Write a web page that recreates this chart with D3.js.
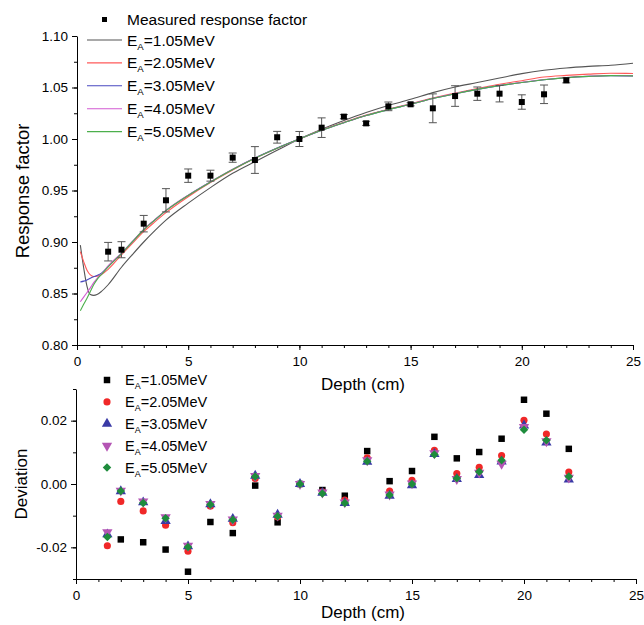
<!DOCTYPE html>
<html><head><meta charset="utf-8">
<script src="https://cdn.jsdelivr.net/npm/d3@7"></script>
<style>
body{margin:0;background:#fff}
svg{display:block}
text{font-family:"Liberation Sans",Arial,Helvetica,sans-serif;fill:#000}
</style>
</head><body>
<svg id="c" width="644" height="625"></svg>
<script>
// ---------- DATA ----------
const measuredDepth = [1.4,2,3,4,5,6,7,8,9,10,11,12,13,14,15,16,17,18,19,20,21,22];
const measuredValue = [0.8906,0.8925,0.9178,0.9405,0.9644,0.9644,0.9819,0.9796,1.0017,1.0000,1.0110,1.0217,1.0152,1.0317,1.0337,1.0298,1.0417,1.0440,1.0440,1.0359,1.0434,1.0570];
const measuredError = [0.009,0.0078,0.008,0.0113,0.0065,0.0053,0.0045,0.013,0.0057,0.0073,0.0095,0.002,0.002,0.0042,0.0015,0.014,0.010,0.0065,0.008,0.007,0.009,0.0025];

const curveDepth = [0.15,0.3,0.45,0.6,0.75,0.9,1.1,1.4,2,2.5,3,3.5,4,5,6,7,8,9,10,11,12,13,14,15,16,17,18,19,20,21,22,23,24,25];
const curve105 = [0.897,0.875,0.857,0.849,0.8482,0.849,0.852,0.8585,0.8755,0.888,0.900,0.911,0.9212,0.9377,0.9528,0.9667,0.978,0.989,1.000,1.0095,1.018,1.0258,1.0326,1.0385,1.045,1.0505,1.0548,1.0592,1.0635,1.0668,1.069,1.0705,1.0716,1.0735];
const curve205 = [0.8906,0.881,0.8725,0.868,0.8665,0.8668,0.8685,0.8735,0.8876,0.899,0.910,0.9195,0.9285,0.944,0.9577,0.970,0.9812,0.991,1.000,1.0087,1.0162,1.0232,1.029,1.0343,1.0398,1.0447,1.049,1.0532,1.0566,1.0602,1.0618,1.063,1.0638,1.0636];
const curve305 = [0.8612,0.862,0.8632,0.8648,0.8662,0.8675,0.8698,0.8762,0.889,0.9005,0.912,0.9215,0.9305,0.9453,0.9583,0.9705,0.9815,0.9912,1.000,1.0084,1.0158,1.0228,1.0285,1.0337,1.0393,1.044,1.0482,1.0518,1.0548,1.0575,1.0595,1.0608,1.0614,1.0612];
const curve405 = [0.842,0.8465,0.851,0.8555,0.8605,0.8645,0.8688,0.8768,0.8892,0.9007,0.9122,0.9217,0.9307,0.9455,0.9584,0.9706,0.9815,0.9911,1.000,1.0085,1.0159,1.0229,1.0286,1.0338,1.0394,1.0441,1.0483,1.0519,1.0550,1.0577,1.0597,1.0609,1.0616,1.0614];
const curve505 = [0.8333,0.8395,0.8455,0.852,0.8585,0.8635,0.8685,0.8758,0.8888,0.9004,0.9119,0.9214,0.9304,0.9452,0.9582,0.9704,0.9814,0.9911,1.000,1.0084,1.0158,1.0228,1.0285,1.0337,1.0393,1.044,1.0482,1.0518,1.0549,1.0576,1.0596,1.0608,1.0615,1.0613];

const devDepth = [1.4,2,3,4,5,6,7,8,9,10,11,12,13,14,15,16,17,18,19,20,21,22];
const dev105 = [-0.037,-0.0175,-0.0184,-0.0207,-0.0277,-0.0120,-0.0155,-0.0005,-0.0121,0,-0.0019,-0.0037,0.0104,0.0009,0.0041,0.0149,0.0081,0.0101,0.0143,0.0266,0.0222,0.0111];
const dev205 = [-0.0195,-0.0055,-0.0085,-0.0130,-0.0212,-0.0070,-0.0122,0.0017,-0.0104,0,-0.0025,-0.0051,0.0083,-0.0022,0.0012,0.0106,0.0033,0.0053,0.0090,0.0201,0.0158,0.0038];
const dev305 = [-0.0159,-0.0023,-0.0058,-0.0117,-0.0197,-0.0064,-0.0110,0.0026,-0.0097,0,-0.0028,-0.0060,0.0070,-0.0037,-0.0004,0.0095,0.0016,0.0028,0.0071,0.0185,0.0131,0.0014];
const dev405 = [-0.0152,-0.0021,-0.0055,-0.0105,-0.0195,-0.0063,-0.0112,0.0025,-0.0100,0,-0.0027,-0.0058,0.0075,-0.0033,0.0002,0.0097,0.0016,0.0036,0.0064,0.0180,0.0135,0.0020];
const dev505 = [-0.0167,-0.0022,-0.0060,-0.0108,-0.0199,-0.0065,-0.0113,0.0024,-0.0102,0,-0.0030,-0.0060,0.0072,-0.0035,0.0000,0.0093,0.0018,0.0039,0.0075,0.0171,0.0138,0.0024];

const seriesNames = ["1.05MeV","2.05MeV","3.05MeV","4.05MeV","5.05MeV"];
const lineColors = ["#555555","#ff5a5a","#4848c0","#d25ad2","#4caf4c"];
const markerColors = ["#000000","#f02828","#3a3aa6","#b455b4","#1e8c3c"];
const xTicks = [0,5,10,15,20,25];
const yTopTicks = [0.80,0.85,0.90,0.95,1.00,1.05,1.10];
const yBotTicks = [-0.02,0.00,0.02];

// ---------- CHART ----------
const svg = d3.select("#c");
const curves = [curve105,curve205,curve305,curve405,curve505];
const devs = [dev105,dev205,dev305,dev405,dev505];

const xTop = d3.scaleLinear().domain([0,25]).range([77,633]);
const yTop = d3.scaleLinear().domain([0.80,1.10]).range([345,36]);
const xBot = d3.scaleLinear().domain([0,25]).range([76,636]);
const yBot = d3.scaleLinear().domain([-0.03,0.03]).range([579,389]);

function styleAxis(g){
  g.selectAll("path,line").attr("stroke","#000").attr("stroke-width",1);
  g.selectAll("text").style("font-size","13.5px").attr("fill","#000");
}
function minorAxis(axisFn, scale, vals, pos, isX){
  const g = svg.append("g").attr("transform", isX?`translate(0,${pos})`:`translate(${pos},0)`)
    .call(axisFn(scale).tickValues(vals).tickSize(3).tickFormat("").tickSizeOuter(0));
  g.select(".domain").remove();
  styleAxis(g);
}
const fmtY = d => (d<0?"-":"") + Math.abs(d).toFixed(2);

// top panel axes
minorAxis(d3.axisBottom, xTop, d3.range(0,26,1), 345, true);
minorAxis(d3.axisLeft, yTop, d3.range(0,13).map(i=>0.8+i*0.025), 77, false);
svg.append("g").attr("transform","translate(0,345)")
  .call(d3.axisBottom(xTop).tickValues(xTicks).tickSize(5).tickPadding(6).tickSizeOuter(0).tickFormat(d3.format("d")))
  .call(styleAxis);
svg.append("g").attr("transform","translate(77,0)")
  .call(d3.axisLeft(yTop).tickValues(yTopTicks).tickSize(5).tickPadding(4).tickSizeOuter(0).tickFormat(d=>d.toFixed(2)))
  .call(styleAxis);

// bottom panel axes
minorAxis(d3.axisBottom, xBot, d3.range(0,26,1), 579, true);
minorAxis(d3.axisLeft, yBot, d3.range(-3,4).map(i=>i*0.01), 76, false);
svg.append("g").attr("transform","translate(0,579)")
  .call(d3.axisBottom(xBot).tickValues(xTicks).tickSize(5).tickPadding(6).tickSizeOuter(0).tickFormat(d3.format("d")))
  .call(styleAxis);
svg.append("g").attr("transform","translate(76,0)")
  .call(d3.axisLeft(yBot).tickValues(yBotTicks).tickSize(5).tickPadding(4).tickSizeOuter(0).tickFormat(fmtY))
  .call(styleAxis);

// axis titles
svg.append("text").attr("x",363).attr("y",390).attr("text-anchor","middle").style("font-size","17px").text("Depth (cm)");
svg.append("text").attr("x",363).attr("y",618).attr("text-anchor","middle").style("font-size","17px").text("Depth (cm)");
svg.append("text").attr("transform","translate(29,191) rotate(-90)").attr("text-anchor","middle").style("font-size","18.5px").text("Response factor");
svg.append("text").attr("transform","translate(27,484) rotate(-90)").attr("text-anchor","middle").style("font-size","17px").text("Deviation");

// curves
const line = d3.line().x(d=>xTop(d[0])).y(d=>yTop(d[1])).curve(d3.curveMonotoneX);
curves.forEach((vals,i)=>{
  svg.append("path").datum(curveDepth.map((d,j)=>[d,vals[j]]))
    .attr("d",line).attr("fill","none").attr("stroke",lineColors[i]).attr("stroke-width",1.1);
});

// measured with error bars
const meas = measuredDepth.map((d,i)=>({x:d,y:measuredValue[i],e:measuredError[i]}));
const eb = svg.append("g").attr("stroke","#555").attr("stroke-width",1);
meas.forEach(m=>{
  const cx = xTop(m.x), y1 = yTop(m.y+m.e), y2 = yTop(m.y-m.e);
  eb.append("line").attr("x1",cx).attr("x2",cx).attr("y1",y1).attr("y2",y2);
  eb.append("line").attr("x1",cx-4).attr("x2",cx+4).attr("y1",y1).attr("y2",y1);
  eb.append("line").attr("x1",cx-4).attr("x2",cx+4).attr("y1",y2).attr("y2",y2);
});
svg.append("g").selectAll("rect").data(meas).join("rect")
  .attr("x",d=>xTop(d.x)-3).attr("y",d=>yTop(d.y)-3).attr("width",6).attr("height",6).attr("fill","#000");

// top legend
const lgTop = svg.append("g");
lgTop.append("rect").attr("x",102).attr("y",17).attr("width",5).attr("height",5).attr("fill","#000");
lgTop.append("text").attr("x",127).attr("y",25).style("font-size","15.5px").text("Measured response factor");
function eaLabel(g,x,y,name,fs){
  const t = g.append("text").attr("x",x).attr("y",y).style("font-size",fs+"px");
  t.append("tspan").text("E");
  t.append("tspan").attr("dy",4).style("font-size",(fs*0.62)+"px").text("A");
  t.append("tspan").attr("dy",-4).text("="+name);
}
seriesNames.forEach((n,i)=>{
  const y = 40 + i*22.9;
  lgTop.append("line").attr("x1",87).attr("x2",122).attr("y1",y).attr("y2",y)
    .attr("stroke",lineColors[i]).attr("stroke-width",1.1);
  eaLabel(lgTop,127,y+5.5,n,15.5);
});

// bottom markers
const symTypes = [d3.symbolSquare,d3.symbolCircle,d3.symbolTriangle,d3.symbolTriangle,d3.symbolSquare];
const symSizes = [42,40,46,46,36];
const symRot = [0,0,0,180,45];
function marker(g,i,x,y){
  g.append("path").attr("d",d3.symbol().type(symTypes[i]).size(symSizes[i])())
    .attr("transform",`translate(${x},${y}) rotate(${symRot[i]})`)
    .attr("fill",markerColors[i]);
}
const mk = svg.append("g");
devs.forEach((vals,i)=>{
  devDepth.forEach((d,j)=>{
    const v = vals[j];
    if (v==null || v<-0.03 || v>0.03) return;
    marker(mk,i,xBot(d),yBot(v));
  });
});

// bottom legend
const lgBot = svg.append("g");
seriesNames.forEach((n,i)=>{
  const y = 380 + i*21.9;
  marker(lgBot,i,107,y);
  eaLabel(lgBot,125,y+5,n,14.5);
});
</script>
</body></html>
